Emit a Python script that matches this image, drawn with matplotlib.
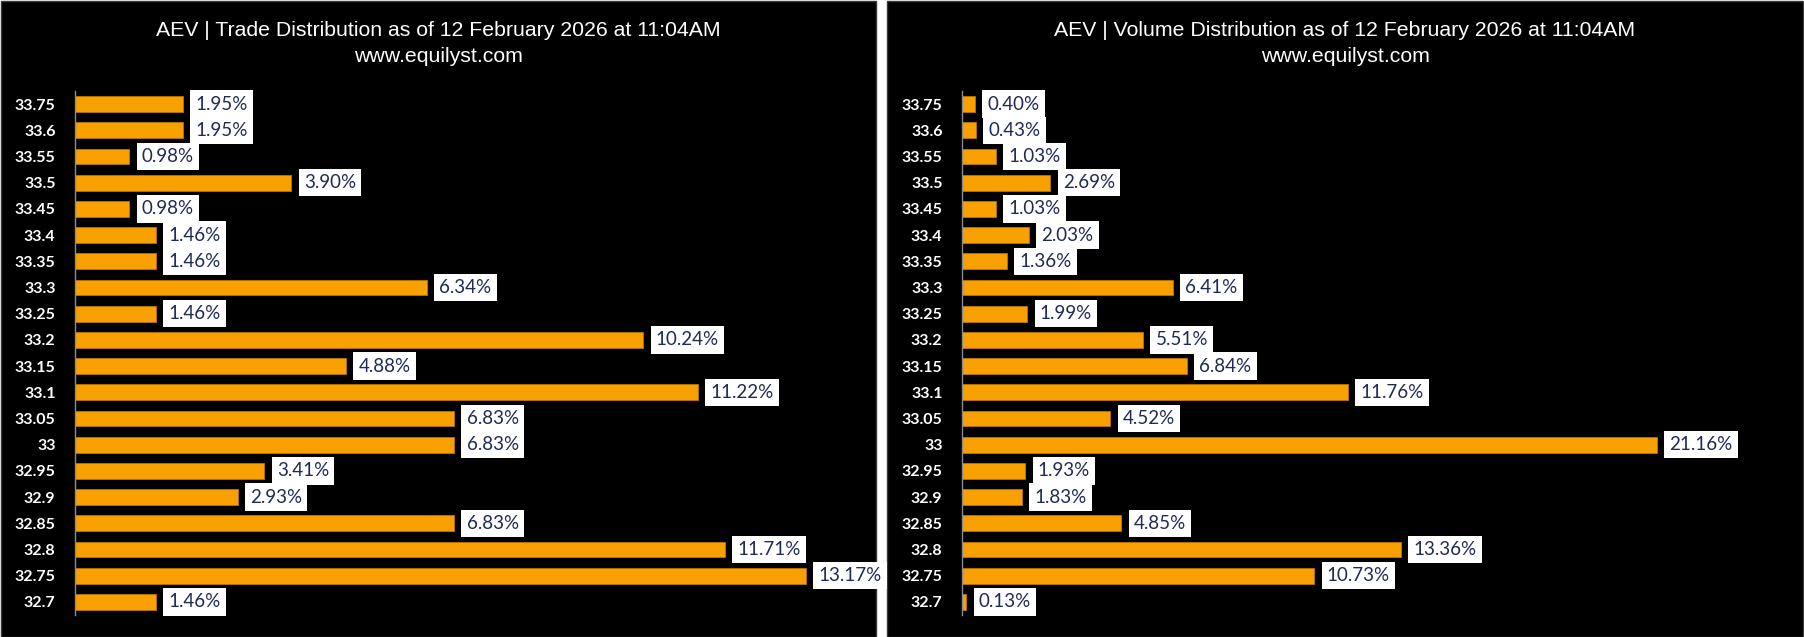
import matplotlib
matplotlib.use('Agg')
import matplotlib.pyplot as plt
from matplotlib.patches import Rectangle

prices = ['33.75', '33.6', '33.55', '33.5', '33.45', '33.4', '33.35', '33.3',
          '33.25', '33.2', '33.15', '33.1', '33.05', '33', '32.95', '32.9',
          '32.85', '32.8', '32.75', '32.7']
trade_pct = [1.95, 1.95, 0.98, 3.90, 0.98, 1.46, 1.46, 6.34, 1.46, 10.24,
             4.88, 11.22, 6.83, 6.83, 3.41, 2.93, 6.83, 11.71, 13.17, 1.46]
volume_pct = [0.40, 0.43, 1.03, 2.69, 1.03, 2.03, 1.36, 6.41, 1.99, 5.51,
              6.84, 11.76, 4.52, 21.16, 1.93, 1.83, 4.85, 13.36, 10.73, 0.13]

titles = ['AEV | Trade Distribution as of 12 February 2026 at 11:04AM',
          'AEV | Volume Distribution as of 12 February 2026 at 11:04AM']
subtitle = 'www.equilyst.com'

W, H = 1804, 637
fig = plt.figure(figsize=(W / 100, H / 100), dpi=100, facecolor='white')

# black panels (pixel extents of the two chart images)
panels = [(1, 876), (887, 1803)]
for x0, x1 in panels:
    fig.patches.append(Rectangle((x0 / W, 0.5 / H), (x1 - x0) / W, (H - 1.5) / H,
                                 transform=fig.transFigure, facecolor='black',
                                 edgecolor='#3a3a3a', linewidth=1, zorder=-5))

bar_color = '#F7A000'
label_color = '#1F2A55'


def draw(ax, values, xmax):
    ax.set_facecolor('black')
    pos = list(range(len(prices)))
    ax.barh(pos, values, height=0.6, color=bar_color, edgecolor='#B87400',
            linewidth=0.6)
    for p, v in zip(pos, values):
        ax.annotate(f'{v:.2f}%', xy=(v, p), xytext=(9, 0),
                    textcoords='offset points', va='center', ha='left',
                    fontsize=13.5, family='Lato', color=label_color,
                    bbox=dict(boxstyle='square,pad=0.28', fc='white', ec='none'))
    ax.set_yticks(pos)
    ax.set_yticklabels(prices, color='white', fontsize=11.5,
                       fontweight='bold', family='Lato')
    ax.tick_params(axis='y', length=0, pad=14)
    ax.set_xticks([])
    ax.set_xlim(0, xmax)
    ax.set_ylim(len(prices) - 0.5, -0.5)
    for s in ['top', 'right', 'bottom']:
        ax.spines[s].set_visible(False)
    ax.spines['left'].set_color('#8c8c8c')
    ax.spines['left'].set_linewidth(1)


bottom = 22 / H
height = 524 / H
ax1 = fig.add_axes([75 / W, bottom, 777 / W, height])
draw(ax1, trade_pct, 14)
ax2 = fig.add_axes([962 / W, bottom, 821 / W, height])
draw(ax2, volume_pct, 25)

for (x0, x1), t in zip(panels, titles):
    cx = (x0 + x1) / 2 / W
    fig.text(cx, 1 - 31 / H, t, ha='center', va='center', color='white',
             fontsize=15.3, family='Liberation Sans')
    fig.text(cx, 1 - 56 / H, subtitle, ha='center', va='center', color='white',
             fontsize=15.3, family='Liberation Sans')

fig.savefig('out.png', dpi=100, facecolor='white')
